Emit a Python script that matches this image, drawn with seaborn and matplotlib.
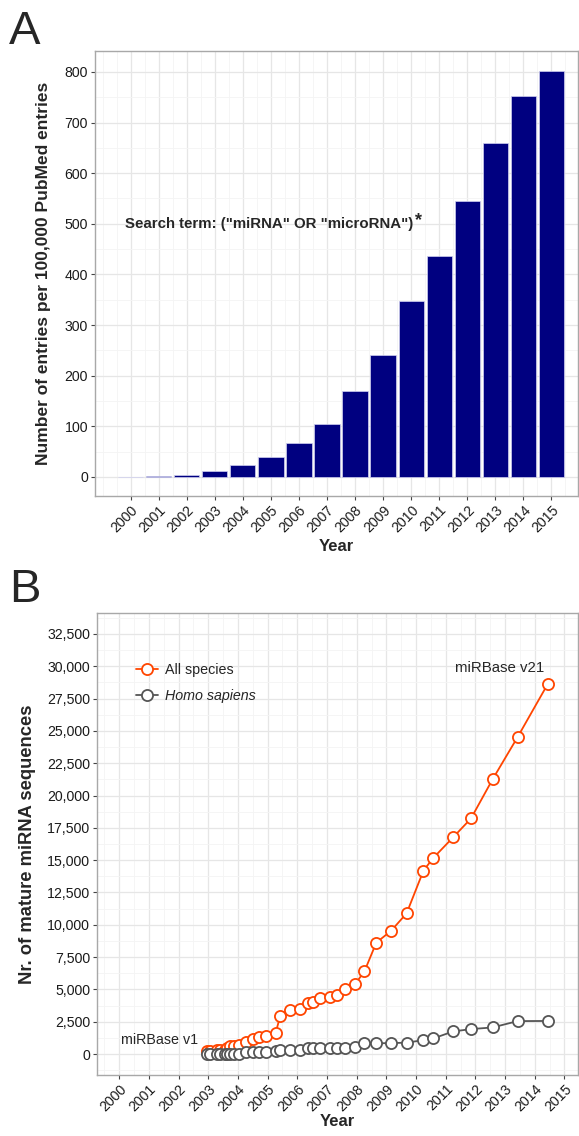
import numpy as np
import pandas as pd
import matplotlib
matplotlib.use("Agg")
import matplotlib.pyplot as plt
import seaborn as sns
from matplotlib.ticker import MultipleLocator, FuncFormatter

# ---------------- data ----------------
years = [2000, 2001, 2002, 2003, 2004, 2005, 2006, 2007,
         2008, 2009, 2010, 2011, 2012, 2013, 2014, 2015]
entries_per_100k = [0, 1, 3, 11, 23, 39, 68, 104,
                    169, 241, 347, 436, 545, 660, 752, 802]

release_dates = [2002.95, 2003.05, 2003.30, 2003.40, 2003.55, 2003.62, 2003.72,
                 2003.88, 2004.05, 2004.27, 2004.52, 2004.72, 2004.93, 2005.27,
                 2005.42, 2005.75, 2006.09, 2006.36, 2006.52, 2006.76, 2007.10,
                 2007.34, 2007.61, 2007.94, 2008.26, 2008.66, 2009.16, 2009.68,
                 2010.25, 2010.58, 2011.25, 2011.85, 2012.58, 2013.42, 2014.44]
all_species = [218, 262, 295, 332, 345, 506, 593, 617, 719, 899, 1185, 1345,
               1420, 1650, 2909, 3424, 3518, 3963, 4039, 4361, 4449, 4584,
               5071, 5395, 6396, 8619, 9539, 10883, 14197, 15172, 16772,
               18226, 21264, 24521, 28645]
homo_sapiens = [0, 0, 0, 0, 0, 0, 0, 0, 0, 130, 130, 150, 150, 200, 310,
                330, 330, 440, 440, 440, 440, 440, 440, 540, 850, 830, 850,
                880, 1080, 1210, 1750, 1930, 2060, 2550, 2560]

# ---------------- style ----------------
sns.set_theme(style="white")
plt.rcParams['font.family'] = ['Liberation Sans', 'DejaVu Sans']

fig = plt.figure(figsize=(5.79, 11.36), dpi=100)
axA = fig.add_axes([0.164, 0.5634, 0.834, 0.3916])
axB = fig.add_axes([0.1675, 0.0537, 0.8305, 0.4067])

def style_axes(ax):
    ax.set_axisbelow(True)
    ax.grid(which='major', color='#e6e6e6', lw=0.9)
    ax.grid(which='minor', color='#f4f4f4', lw=0.6)
    for s in ax.spines.values():
        s.set_color('#a8a8a8')
        s.set_linewidth(1.0)
        s.set_visible(True)
    ax.tick_params(which='major', length=3, width=0.8, color='#444444',
                   labelsize=10.2, labelcolor='#1a1a1a', pad=2, bottom=True, left=True)
    ax.tick_params(which='minor', length=0)
    for lab in ax.get_xticklabels():
        lab.set_rotation(45)
        lab.set_ha('right')
        lab.set_rotation_mode('anchor')

# ---------------- panel A ----------------
dfA = pd.DataFrame({"Year": years, "Entries": entries_per_100k})
sns.barplot(data=dfA, x="Year", y="Entries", native_scale=True, width=0.9,
            color="#000080", saturation=1, edgecolor="#d0d0f0", linewidth=0.5,
            errorbar=None, ax=axA)
axA.set_xlim(1998.73, 2015.94)
axA.set_ylim(-37.5, 841)
axA.set_xticks(years)
axA.set_xticklabels([str(y) for y in years])
axA.xaxis.set_minor_locator(MultipleLocator(0.5))
axA.set_yticks([0, 100, 200, 300, 400, 500, 600, 700, 800])
axA.yaxis.set_minor_locator(MultipleLocator(50))
style_axes(axA)
axA.set_xlabel("Year", fontsize=12, fontweight='bold', labelpad=3)
axA.set_ylabel("Number of entries per 100,000 PubMed entries", fontsize=12.5,
               fontweight='bold', labelpad=10)
t1 = axA.text(1999.8, 500, 'Search term: ("miRNA" OR "microRNA")',
              fontweight='bold', fontsize=10.8, va='center', ha='left')
axA.annotate('*', xy=(1, 1), xycoords=t1, xytext=(1, -3), textcoords='offset points',
             fontsize=13, fontweight='bold', va='center', ha='left')

# ---------------- panel B ----------------
sns.lineplot(x=release_dates, y=all_species, color='#FF4500', marker='o',
             markersize=8, mfc='white', mec='#FF4500', mew=1.3, lw=1.3,
             label='All species', ax=axB)
sns.lineplot(x=release_dates, y=homo_sapiens, color='#555555', marker='o',
             markersize=8, mfc='white', mec='#555555', mew=1.3, lw=1.3,
             label='Homo sapiens', ax=axB)
axB.set_xlim(1999.25, 2015.45)
axB.set_ylim(-1620, 34125)
axB.set_xticks(years)
axB.set_xticklabels([str(y) for y in years])
axB.xaxis.set_minor_locator(MultipleLocator(0.5))
axB.set_yticks(np.arange(0, 32501, 2500))
axB.yaxis.set_major_formatter(FuncFormatter(lambda v, p: f"{int(v):,}"))
axB.yaxis.set_minor_locator(MultipleLocator(1250))
style_axes(axB)
axB.set_xlabel("Year", fontsize=12, fontweight='bold', labelpad=0)
axB.set_ylabel("Nr. of mature miRNA sequences", fontsize=13.2, fontweight='bold',
               labelpad=8)
leg = axB.legend(loc='upper left', bbox_to_anchor=(0.055, 0.92), frameon=False,
                 fontsize=10.3, handlelength=1.5, labelspacing=0.85, handletextpad=0.5)
leg.get_texts()[1].set_fontstyle('italic')
axB.text(2000.05, 1100, "miRBase v1", fontsize=10.3, va='center', ha='left')
axB.text(2012.8, 29900, "miRBase v21", fontsize=10.8, va='center', ha='center')

fig.text(0.016, 0.991, "A", fontsize=34, va='top', ha='left')
fig.text(0.016, 0.5, "B", fontsize=34, va='top', ha='left')

fig.savefig("out.png", dpi=100)
